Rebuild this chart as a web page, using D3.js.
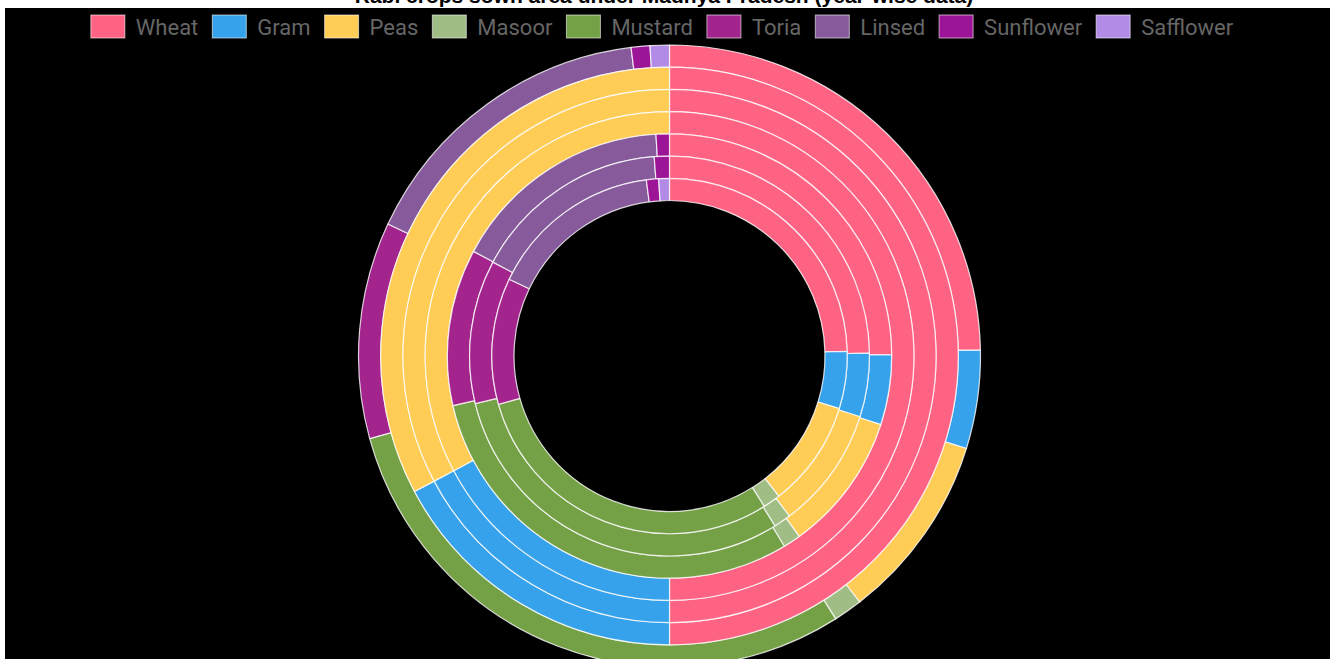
<!DOCTYPE html>
<html>
<head>
<meta charset="utf-8">
<script src="https://cdn.jsdelivr.net/npm/d3@7"></script>
<style>
  html, body { margin: 0; padding: 0; background: #fff; }
  svg { display: block; }
</style>
</head>
<body>
<svg id="chart" width="1335" height="659"></svg>
<script>
// ---------- DATA ----------
const categories = ["Wheat", "Gram", "Peas", "Masoor", "Mustard", "Toria", "Linsed", "Sunflower", "Safflower"];
const colors = ["#ff6384", "#36a2eb", "#ffcd56", "#9fbd84", "#74a046", "#a3248d", "#875a9c", "#9c1597", "#b18be6"];
const ringLabels = ["Year 1", "Year 2", "Year 3", "Year 4", "Year 5", "Year 6", "Year 7"];
const ring1 = [88.9, 18.4, 35.0, 5.4, 106.9, 40.5, 57.8, 3.5, 3.6];
const ring2 = [180, 62, 118, 0, 0, 0, 0, 0, 0];
const ring3 = [180, 62, 118, 0, 0, 0, 0, 0, 0];
const ring4 = [180, 62, 118, 0, 0, 0, 0, 0, 0];
const ring5 = [89.7, 18.3, 36.3, 4.6, 108.2, 41.0, 58.4, 3.5, 0];
const ring6 = [89.2, 18.5, 35.5, 5.0, 108.0, 41.8, 57.6, 4.4, 0];
const ring7 = [88.5, 18.7, 34.9, 5.7, 106.4, 41.4, 56.9, 4.0, 3.5];
const rings = [ring1, ring2, ring3, ring4, ring5, ring6, ring7];
const titleText = "Rabi crops sown area under Madhya Pradesh (year-wise data)";

// ---------- LAYOUT ----------
const svg = d3.select("#chart");
svg.append("rect").attr("x", 5).attr("y", 8).attr("width", 1325).attr("height", 651).attr("fill", "#000");

svg.append("text")
  .attr("x", 664).attr("y", 3)
  .attr("text-anchor", "middle")
  .attr("font-family", "Liberation Sans, Arial, sans-serif")
  .attr("font-weight", "bold")
  .attr("font-size", 21)
  .attr("fill", "#000")
  .text(titleText);

const cx = 669.5, cy = 356, R = 311, r0 = 155.5;
const ringW = (R - r0) / rings.length;

const pie = d3.pie().sort(null).value(d => d.value);
const g = svg.append("g").attr("transform", `translate(${cx},${cy})`);

rings.forEach((vals, i) => {
  const outer = R - i * ringW;
  const inner = outer - ringW;
  const arc = d3.arc().innerRadius(inner).outerRadius(outer);
  const data = pie(vals.map((v, k) => ({ value: v, cat: categories[k], color: colors[k] })))
    .filter(d => d.data.value > 0);
  g.append("g").attr("class", "ring").attr("data-label", ringLabels[i])
    .selectAll("path").data(data).join("path")
    .attr("d", arc)
    .attr("fill", d => d.data.color)
    .attr("stroke", "rgba(255,255,255,0.8)")
    .attr("stroke-width", 1.2)
    .attr("stroke-linejoin", "round");
});

// ---------- LEGEND ----------
const boxW = 34, boxH = 23, gapText = 11, gapItem = 14, legendCenter = 662, legendY = 15;
const legend = svg.append("g");
const items = legend.selectAll("g").data(categories).join("g");
items.append("rect")
  .attr("width", boxW).attr("height", boxH)
  .attr("fill", (d, i) => colors[i])
  .attr("stroke", "rgba(255,255,255,0.6)").attr("stroke-width", 1);
items.append("text")
  .attr("x", boxW + gapText).attr("y", boxH / 2 + 8)
  .attr("font-family", "Roboto, sans-serif")
  .attr("font-size", 22)
  .attr("fill", "#666")
  .text(d => d);
const widths = [];
items.each(function () { widths.push(boxW + gapText + d3.select(this).select("text").node().getComputedTextLength()); });
const total = d3.sum(widths) + gapItem * (widths.length - 1);
let xPos = legendCenter - total / 2;
items.each(function (d, i) {
  d3.select(this).attr("transform", `translate(${xPos},${legendY})`);
  xPos += widths[i] + gapItem;
});
</script>
</body>
</html>
